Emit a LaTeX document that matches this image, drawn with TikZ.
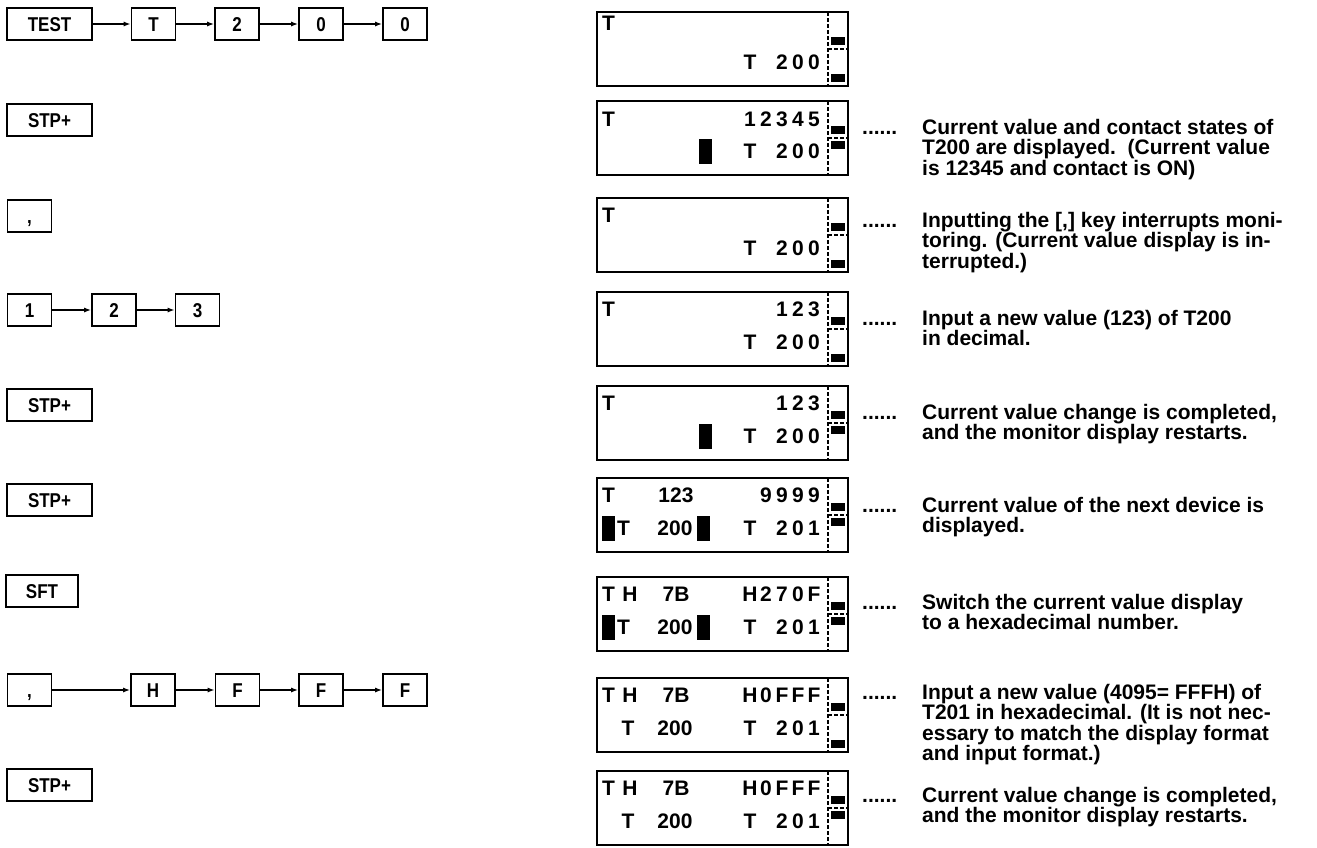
\documentclass[tikz,border=0pt]{standalone}
\usepackage{fontspec}
\setmainfont{Liberation Sans}
\newfontfamily\keyfont{Liberation Sans}[FakeStretch=0.85]
\usetikzlibrary{arrows.meta}
\tikzset{
  key/.style={draw,line width=1.6pt,minimum height=32pt,minimum width=44pt,inner sep=0pt,
    font=\keyfont\bfseries\fontsize{20}{20}\selectfont,text height=14pt,text depth=0pt},
  wide/.style={minimum width=85pt},
  go/.style={line width=1.4pt,-{Latex[length=7pt,width=5pt]}},
  lcdbox/.style={draw,line width=2.4pt,minimum width=251pt,minimum height=74pt,inner sep=0pt},
  lcd/.style={inner sep=0pt,font=\bfseries\fontsize{21}{21}\selectfont,text height=15pt,text depth=0pt},
  sep/.style={line width=1.2pt,dash pattern=on 4pt off 2pt},
  blk/.style={fill=black},
  dots/.style={anchor=base west,inner sep=0pt,font=\bfseries\fontsize{21}{21}\selectfont},
  note/.style={anchor=north west,inner sep=0pt,align=left,font=\bfseries\fontsize{21}{20.5}\selectfont}
}
\begin{document}
\begin{tikzpicture}[x=1pt,y=-1pt]
\useasboundingbox (0,0) rectangle (1317,847);
% key sequences
\node[key,wide] (k11) at (49.5,24) {TEST};
\foreach \n/\x/\c in {2/153.5/T,3/237/2,4/321/0,5/405/0}{\node[key] (k1\n) at (\x,24) {\c};}
\foreach \a/\b in {1/2,2/3,3/4,4/5}{\draw[go] (k1\a)--(k1\b);}
\node[key,wide] (k21) at (49.5,120) {STP+};
\node[key] (k31) at (29.5,216) {,};
\foreach \n/\x in {1/29.5,2/114,3/197.5}{\node[key] (k4\n) at (\x,310) {\n};}
\draw[go] (k41)--(k42); \draw[go] (k42)--(k43);
\node[key,wide] (k51) at (49.5,405) {STP+};
\node[key,wide] (k61) at (49.5,500) {STP+};
\node[key,minimum width=72pt] (k71) at (42,591) {SFT};
\node[key] (k81) at (29.5,690) {,};
\foreach \n/\x/\c in {2/153/H,3/237.5/F,4/321/F,5/405/F}{\node[key] (k8\n) at (\x,690) {\c};}
\foreach \a/\b in {1/2,2/3,3/4,4/5}{\draw[go] (k8\a)--(k8\b);}
\node[key,wide] (k91) at (49.5,785) {STP+};
% displays
\foreach \i/\t/\l/\u in {1/12/62/11,2/101/40/18,3/198/62/17,4/292/62/17,5/386/40/17,6/478/40/17,7/577/40/17,8/678/62/17,9/771/40/17}{
  \node[lcdbox] (lcd\i) at (722.5,{\t+37}) {};
  \draw[sep] (828,\t) -- (828,{\t+74});
  \draw[sep] (828,{\t+37}) -- (848,{\t+37});
  \fill[blk] (831,{\t+25}) rectangle (845,{\t+33});
  \fill[blk] (831,{\t+\l}) rectangle (845,{\t+\l+8});
  \node[lcd,anchor=west] (tt\i) at (602,{\t+\u}) {T};
}
\foreach \i/\t in {1/12,2/101,3/198,4/292,5/386}{
  \foreach \c [count=\k] in {T,{},2,0,0}{\node[lcd] (lo\i-\k) at ({734+16*\k},{\t+50}) {\c};}}
\foreach \i/\t in {6/478,7/577,8/678,9/771}{
  \foreach \c [count=\k] in {T,{},2,0,1}{\node[lcd] (lo\i-\k) at ({734+16*\k},{\t+50}) {\c};}}
\foreach \c [count=\k] in {1,2,3,4,5}{\node[lcd] (up2-\k) at ({734+16*\k},119) {\c};}
\foreach \i/\t in {4/292,5/386}{
  \foreach \c [count=\k] in {{},{},1,2,3}{\node[lcd] (up\i-\k) at ({734+16*\k},{\t+17}) {\c};}}
\foreach \c [count=\k] in {{},9,9,9,9}{\node[lcd] (up6-\k) at ({734+16*\k},495) {\c};}
\foreach \c [count=\k] in {H,2,7,0,F}{\node[lcd] (up7-\k) at ({734+16*\k},594) {\c};}
\foreach \i/\t in {8/678,9/771}{
  \foreach \c [count=\k] in {H,0,F,F,F}{\node[lcd] (up\i-\k) at ({734+16*\k},{\t+17}) {\c};}}
\node[lcd] (mid6) at (676,495) {123};
\foreach \i/\t in {7/577,8/678,9/771}{
  \node[lcd] (hh\i) at (630,{\t+17}) {H};
  \node[lcd] (sb\i) at (676,{\t+17}) {7B};
  \node[lcd] (lt\i) at (675,{\t+50}) {200};}
\node[lcd] (lt6) at (675,528) {200};
\foreach \i/\t in {6/478,7/577}{\node[lcd,anchor=west] (tl\i) at (617,{\t+50}) {T};}
\foreach \i/\t in {8/678,9/771}{\node[lcd] (tl\i) at (628,{\t+50}) {T};}
% contact blocks
\foreach \t in {101,386}{\fill[blk] (699,{\t+38}) rectangle (712,{\t+63});}
\foreach \t in {478,577}{
  \fill[blk] (602,{\t+38}) rectangle (615,{\t+63});
  \fill[blk] (697,{\t+38}) rectangle (710,{\t+63});}
% notes
\foreach \i/\b in {2/134,3/227,4/325,5/419,6/512,7/609,8/699,9/802}{\node[dots] (dot\i) at (862,\b) {......};}
\node[note] (note2) at (922,118.8) {Current value and contact states of\\T200 are displayed.\ \ (Current value\\is 12345 and contact is ON)};
\node[note] (note3) at (922,211.8) {Inputting the [,] key interrupts moni-\\toring. (Current value display is in-\\terrupted.)};
\node[note] (note4) at (922,309.8) {Input a new value (123) of T200\\in decimal.};
\node[note] (note5) at (922,403.8) {Current value change is completed,\\and the monitor display restarts.};
\node[note] (note6) at (922,496.8) {Current value of the next device is\\displayed.};
\node[note] (note7) at (922,593.8) {Switch the current value display\\to a hexadecimal number.};
\node[note] (note8) at (922,683.8) {Input a new value (4095= FFFH) of\\T201 in hexadecimal. (It is not nec-\\essary to match the display format\\and input format.)};
\node[note] (note9) at (922,786.8) {Current value change is completed,\\and the monitor display restarts.};
\end{tikzpicture}
\end{document}
